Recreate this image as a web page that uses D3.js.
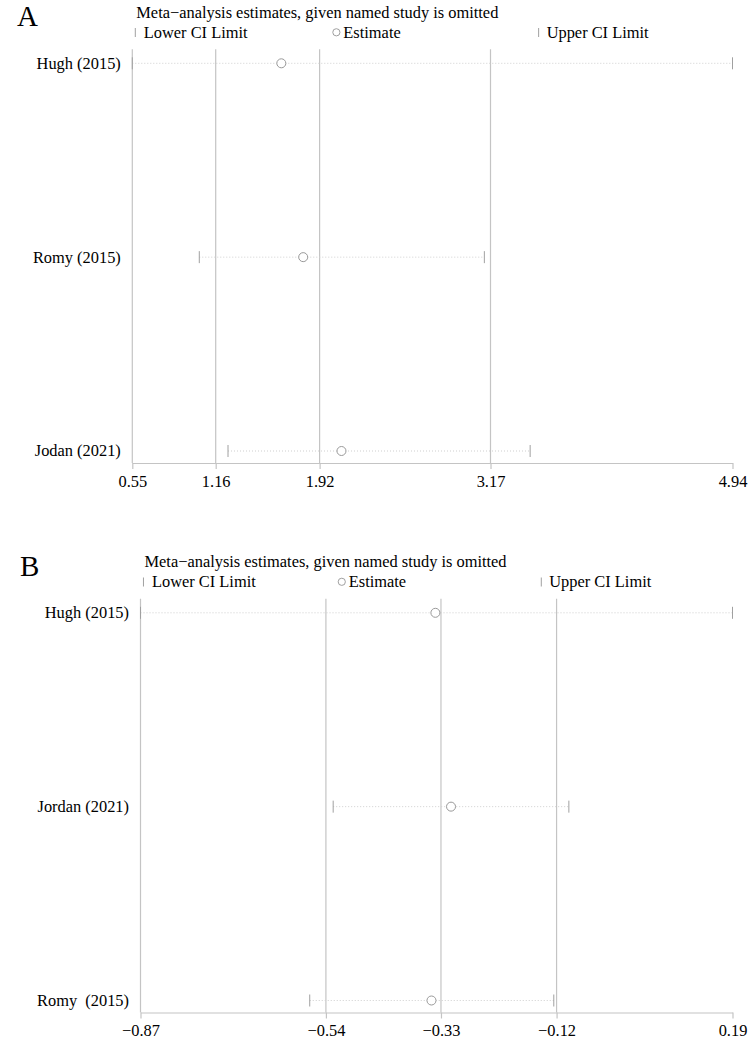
<!DOCTYPE html>
<html>
<head>
<meta charset="utf-8">
<script src="https://cdn.jsdelivr.net/npm/d3@7"></script>
<style>
  html, body { margin: 0; padding: 0; background: #ffffff; }
  svg { display: block; }
  text { font-family: "Liberation Serif", "DejaVu Serif", serif; fill: #000; }
</style>
</head>
<body>
<svg id="chart" width="752" height="1041"></svg>
<script>
// ---------- Data ----------
const titleText = "Meta\u2212analysis estimates, given named study is omitted";
const legendLabels = ["Lower CI Limit", "Estimate", "Upper CI Limit"];

// Panel A
const studiesA = ["Hugh (2015)", "Romy (2015)", "Jodan (2021)"];
const lowerA = [0.55, 1.04, 1.25];
const estA = [1.64, 1.80, 2.08];
const upperA = [4.94, 3.125, 3.46];
const overallA = [1.16, 1.92, 3.17];
const tickValuesA = [0.55, 1.16, 1.92, 3.17, 4.94];
const tickLabelsA = ["0.55", "1.16", "1.92", "3.17", "4.94"];

// Panel B
const studiesB = ["Hugh (2015)", "Jordan (2021)", "Romy  (2015)"];
const lowerB = [-0.87, -0.525, -0.567];
const estB = [-0.342, -0.314, -0.349];
const upperB = [0.19, -0.103, -0.130];
const overallB = [-0.538, -0.332, -0.125];
const tickValuesB = [-0.87, -0.538, -0.332, -0.125, 0.19];
const tickLabelsB = ["\u22120.87", "\u22120.54", "\u22120.33", "\u22120.12", "0.19"];

const panels = [
  { letter: "A", studies: studiesA, lower: lowerA, est: estA, upper: upperA,
    overall: overallA, ticks: tickValuesA, tickLabels: tickLabelsA,
    oy: 0, left: 132.3, right: 732.5, letterX: 17 },
  { letter: "B", studies: studiesB, lower: lowerB, est: estB, upper: upperB,
    overall: overallB, ticks: tickValuesB, tickLabels: tickLabelsB,
    oy: 549.5, left: 140.5, right: 732.5, letterX: 20 }
];

// ---------- Drawing ----------
const svg = d3.select("#chart");
const FS = 16.4;
const gridColor = "#c4c4c4";
const markColor = "#a0a0a0";

panels.forEach(p => {
  const g = svg.append("g").attr("transform", `translate(0,${p.oy})`);
  const plotTop = 49.3, axisY = 463;

  const x = d3.scaleLinear()
    .domain([p.ticks[0], p.ticks[p.ticks.length - 1]])
    .range([p.left, p.right]);
  const y = d3.scalePoint().domain(p.studies).range([63.3, 451]);

  // panel letter
  g.append("text").attr("x", p.letterX).attr("y", 26)
    .style("font-size", "29px").text(p.letter);

  // title
  g.append("text").attr("x", p.left + 4).attr("y", 17.5)
    .style("font-size", FS + "px").text(titleText);

  // legend
  const w = p.right - p.left;
  const legX = [p.left + 0.005 * w, p.left + 0.34 * w, p.left + 0.677 * w];
  const legY = 37.5;
  // lower marker
  g.append("line").attr("x1", legX[0]).attr("x2", legX[0])
    .attr("y1", legY - 9.5).attr("y2", legY - 0.5)
    .attr("stroke", markColor).attr("stroke-width", 1);
  g.append("text").attr("x", legX[0] + 8.5).attr("y", legY)
    .style("font-size", FS + "px").text(legendLabels[0]);
  // estimate marker
  g.append("circle").attr("cx", legX[1]).attr("cy", legY - 5.2).attr("r", 3.6)
    .attr("fill", "none").attr("stroke", markColor).attr("stroke-width", 1);
  g.append("text").attr("x", legX[1] + 7).attr("y", legY)
    .style("font-size", FS + "px").text(legendLabels[1]);
  // upper marker
  g.append("line").attr("x1", legX[2]).attr("x2", legX[2])
    .attr("y1", legY - 9.5).attr("y2", legY - 0.5)
    .attr("stroke", markColor).attr("stroke-width", 1);
  g.append("text").attr("x", legX[2] + 8).attr("y", legY)
    .style("font-size", FS + "px").text(legendLabels[2]);

  // overall estimate reference lines
  g.selectAll(".ref").data(p.overall).join("line")
    .attr("x1", d => x(d)).attr("x2", d => x(d))
    .attr("y1", plotTop).attr("y2", axisY)
    .attr("stroke", gridColor).attr("stroke-width", 1.2);

  // left axis line
  g.append("line").attr("x1", p.left).attr("x2", p.left)
    .attr("y1", plotTop).attr("y2", axisY)
    .attr("stroke", gridColor).attr("stroke-width", 1.2);

  // bottom axis
  const axis = d3.axisBottom(x).tickValues(p.ticks)
    .tickFormat((d, i) => p.tickLabels[i]).tickSize(6).tickSizeOuter(0);
  const ax = g.append("g").attr("transform", `translate(0,${axisY})`).call(axis);
  ax.select(".domain").attr("stroke", gridColor).attr("stroke-width", 1.2);
  ax.selectAll(".tick line").attr("stroke", gridColor).attr("stroke-width", 1.2);
  ax.selectAll(".tick text")
    .attr("y", 23.5).attr("dy", null)
    .style("font-size", FS + "px")
    .style("font-family", '"Liberation Serif", serif')
    .attr("fill", "#000");

  // study rows
  const rows = p.studies.map((s, i) => ({ s, lo: p.lower[i], est: p.est[i], hi: p.upper[i] }));

  g.selectAll(".lab").data(rows).join("text")
    .attr("x", p.left - 11.5).attr("y", d => y(d.s))
    .attr("dy", "0.33em").attr("text-anchor", "end")
    .style("font-size", FS + "px").style("white-space", "pre")
    .attr("xml:space", "preserve")
    .text(d => d.s);

  g.selectAll(".ci").data(rows).join("line")
    .attr("x1", d => x(d.lo)).attr("x2", d => x(d.hi))
    .attr("y1", d => y(d.s)).attr("y2", d => y(d.s))
    .attr("stroke", "#cfcfcf").attr("stroke-width", 1)
    .attr("stroke-dasharray", "1,2");

  g.selectAll(".capl").data(rows).join("line")
    .attr("x1", d => x(d.lo)).attr("x2", d => x(d.lo))
    .attr("y1", d => y(d.s) - 6).attr("y2", d => y(d.s) + 6)
    .attr("stroke", markColor).attr("stroke-width", 1);

  g.selectAll(".capu").data(rows).join("line")
    .attr("x1", d => x(d.hi)).attr("x2", d => x(d.hi))
    .attr("y1", d => y(d.s) - 6).attr("y2", d => y(d.s) + 6)
    .attr("stroke", markColor).attr("stroke-width", 1);

  g.selectAll(".pt").data(rows).join("circle")
    .attr("cx", d => x(d.est)).attr("cy", d => y(d.s)).attr("r", 4.5)
    .attr("fill", "#fff").attr("stroke", "#999").attr("stroke-width", 1);
});
</script>
</body>
</html>
